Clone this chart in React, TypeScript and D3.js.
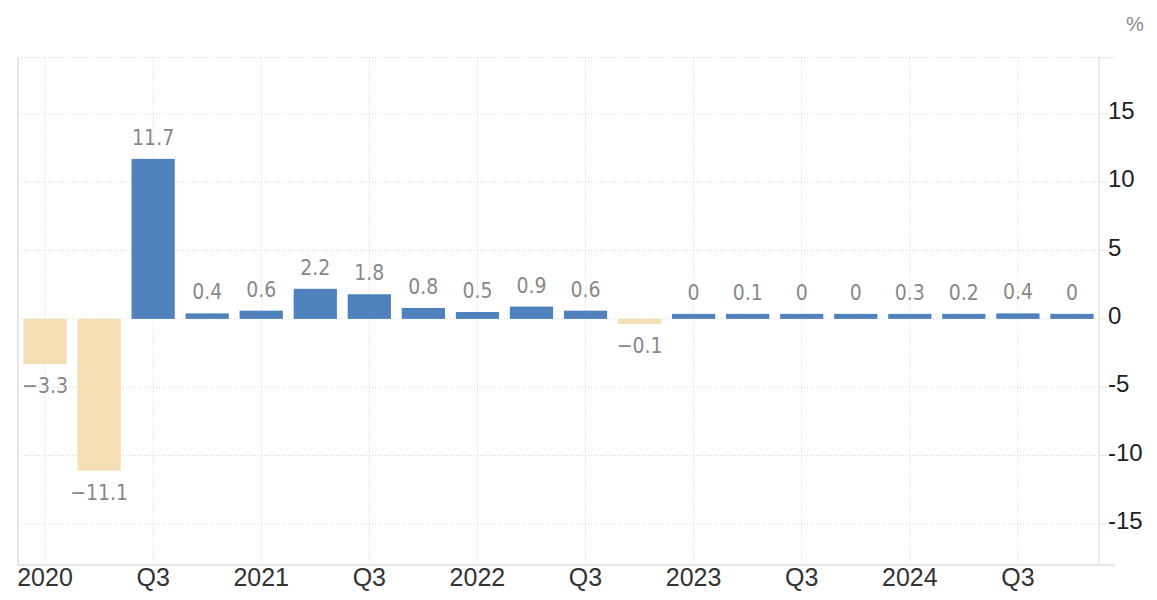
import React from "react";
import * as d3 from "d3";

const quarters: string[] = [
  "2020Q1", "2020Q2", "2020Q3", "2020Q4",
  "2021Q1", "2021Q2", "2021Q3", "2021Q4",
  "2022Q1", "2022Q2", "2022Q3", "2022Q4",
  "2023Q1", "2023Q2", "2023Q3", "2023Q4",
  "2024Q1", "2024Q2", "2024Q3", "2024Q4",
];
const values: number[] = [
  -3.3, -11.1, 11.7, 0.4, 0.6, 2.2, 1.8, 0.8, 0.5, 0.9,
  0.6, -0.1, 0, 0.1, 0, 0, 0.3, 0.2, 0.4, 0,
];
const xTickQuarters: string[] = [
  "2020Q1", "2020Q3", "2021Q1", "2021Q3", "2022Q1", "2022Q3",
  "2023Q1", "2023Q3", "2024Q1", "2024Q3",
];
const xTickLabels: string[] = [
  "2020", "Q3", "2021", "Q3", "2022", "Q3", "2023", "Q3", "2024", "Q3",
];
const yTicks: number[] = [-15, -10, -5, 0, 5, 10, 15];
const unitLabel = "%";

const W = 1157;
const H = 600;
const left = 18;
const right = 1099;
const top = 57.7;
const bottom = 565;

const POS = "#4f81bd";
const NEG = "#f5deb3";
const GRID = "#d4d4d4";
const AXIS = "#e6e6e6";

export default function App() {
  const x = d3
    .scaleBand<string>()
    .domain(quarters)
    .range([left, right])
    .paddingInner(0.2)
    .paddingOuter(0.1);
  const y = d3.scaleLinear().domain([-18, 19.1]).range([bottom, top]);
  const y0 = y(0);
  const minH = 5;
  const fmt = (v: number) => (v < 0 ? "\u2212" + Math.abs(v) : String(v));

  return (
    <svg
      width={W}
      height={H}
      style={{ position: "absolute", left: 0, top: 0, background: "#fff" }}
    >
      {/* horizontal grid */}
      <line x1={left} x2={right} y1={top} y2={top} stroke={GRID} strokeDasharray="1,2" />
      {yTicks.map((t) => (
        <line
          key={"g" + t}
          x1={left}
          x2={right}
          y1={y(t)}
          y2={y(t)}
          stroke={GRID}
          strokeDasharray="1,2"
        />
      ))}
      {/* vertical grid */}
      {xTickQuarters.map((q) => {
        const cx = (x(q) as number) + x.bandwidth() / 2;
        return (
          <line
            key={"v" + q}
            x1={cx}
            x2={cx}
            y1={top}
            y2={bottom}
            stroke={GRID}
            strokeDasharray="1,2"
          />
        );
      })}
      {/* frame */}
      <line x1={left} x2={left} y1={top} y2={bottom} stroke={AXIS} strokeWidth={2} />
      <line x1={right} x2={right} y1={top} y2={bottom} stroke={AXIS} strokeWidth={1.5} />
      <line x1={left - 1} x2={right + 16} y1={bottom} y2={bottom} stroke={AXIS} strokeWidth={2} />
      <line x1={right} x2={right + 16} y1={top} y2={top} stroke={AXIS} strokeWidth={1} />
      {/* bars */}
      {values.map((v, i) => {
        const bx = x(quarters[i]) as number;
        const bw = x.bandwidth();
        let h = Math.abs(y(v) - y0);
        if (h < minH) h = minH;
        const neg = v < 0;
        const by = neg ? y0 : y0 - h;
        const cx = bx + bw / 2;
        const ly = neg ? y0 + h + 29 : y0 - h - 14;
        return (
          <g key={quarters[i]}>
            <rect x={bx} y={by} width={bw} height={h} fill={neg ? NEG : POS} />
            <text
              x={cx}
              y={ly}
              textAnchor="middle"
              fill="#888"
              fontFamily="'DejaVu Sans Condensed', 'DejaVu Sans', sans-serif"
              fontStretch="condensed"
              fontSize={21}
            >
              {fmt(v)}
            </text>
          </g>
        );
      })}
      {/* y ticks and labels */}
      {yTicks.map((t) => (
        <g key={"t" + t}>
          <line x1={right} x2={right + 9} y1={y(t)} y2={y(t)} stroke={AXIS} strokeWidth={1} />
          <text
            x={right + 9}
            y={y(t) + 5}
            fill="#222"
            fontFamily="'Liberation Sans', Arial, sans-serif"
            fontSize={24}
          >
            {t}
          </text>
        </g>
      ))}
      <text
        x={1135}
        y={31}
        textAnchor="middle"
        fill="#888"
        fontFamily="'Liberation Sans', Arial, sans-serif"
        fontSize={20}
      >
        {unitLabel}
      </text>
      {/* x labels */}
      {xTickQuarters.map((q, i) => {
        const cx = (x(q) as number) + x.bandwidth() / 2;
        return (
          <text
            key={"xl" + q}
            x={cx}
            y={586}
            textAnchor="middle"
            fill="#333"
            fontFamily="'Liberation Sans', Arial, sans-serif"
            fontSize={25}
          >
            {xTickLabels[i]}
          </text>
        );
      })}
    </svg>
  );
}
